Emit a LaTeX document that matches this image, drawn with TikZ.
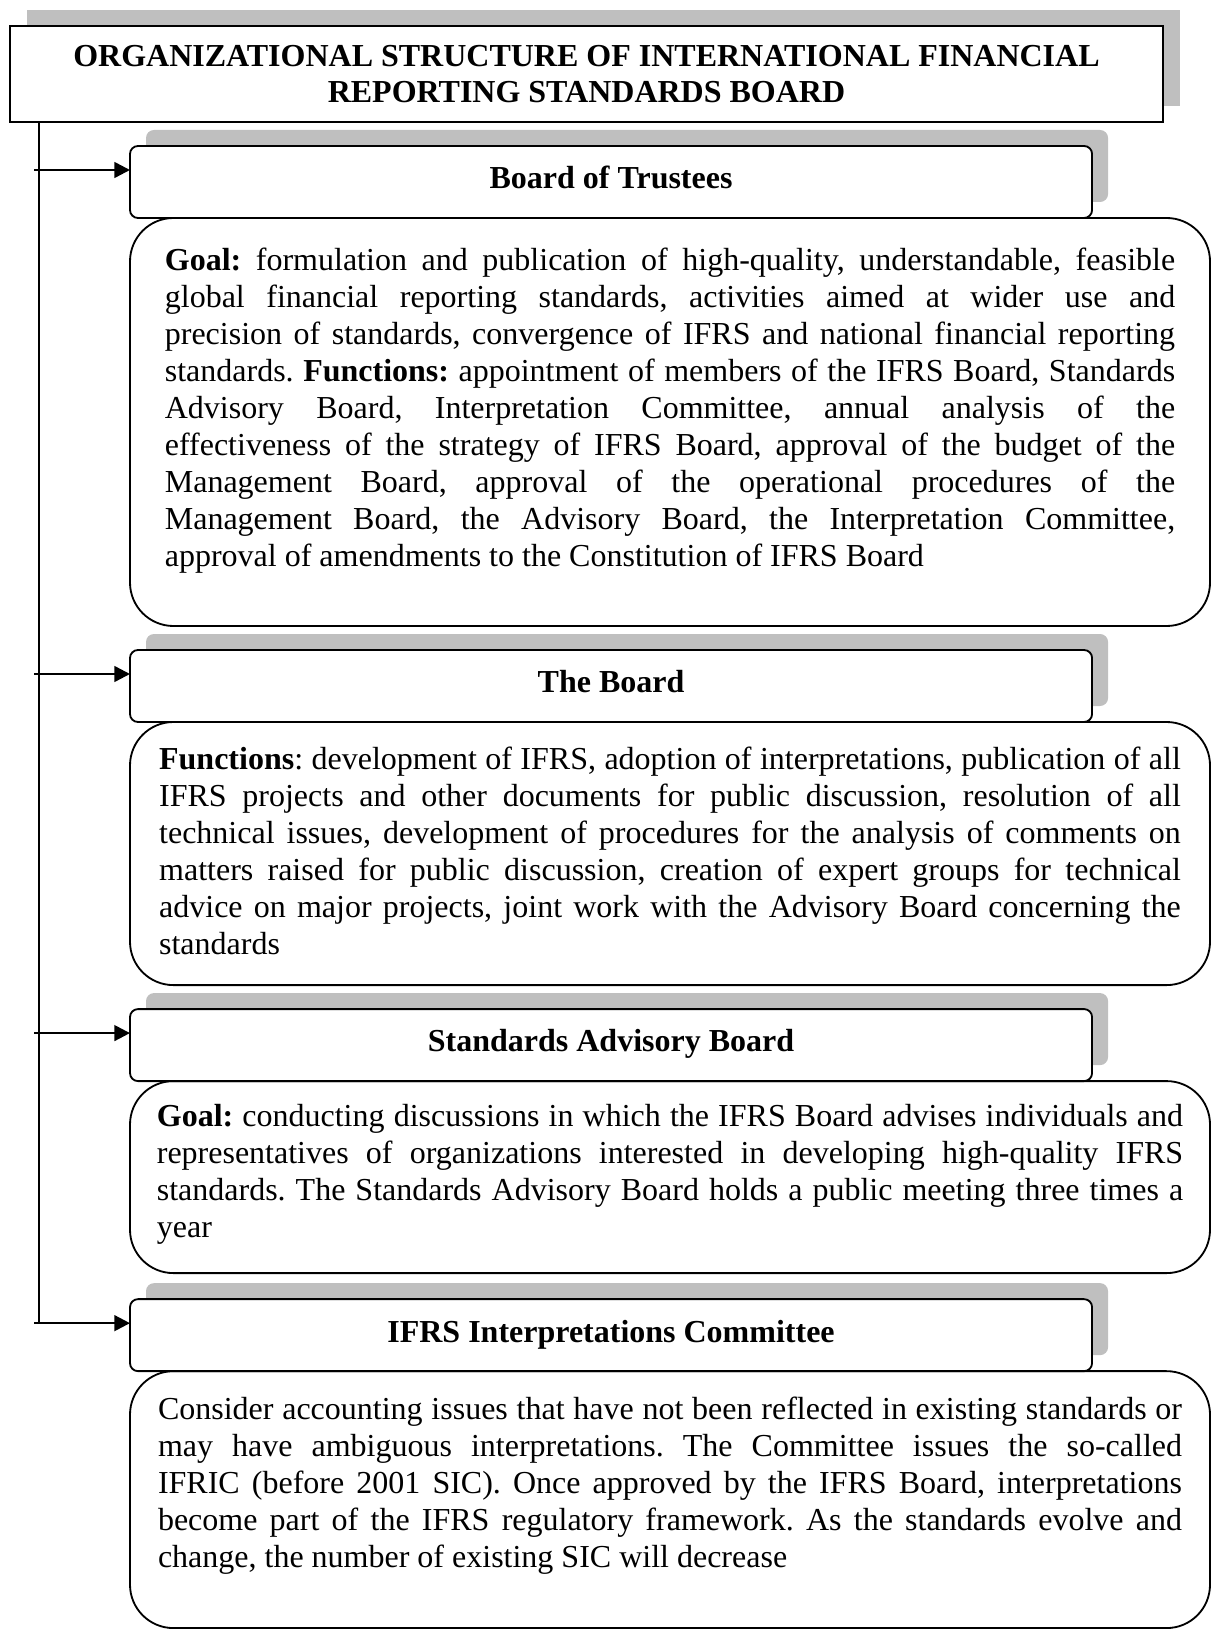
\documentclass[tikz,border=0pt]{standalone}
\usepackage{fontspec}
\setmainfont{Liberation Serif}
\usetikzlibrary{shadows}
\usetikzlibrary{arrows.meta}
\usetikzlibrary{positioning}
\frenchspacing

\begin{document}
\begin{tikzpicture}[x=0.4375pt,y=-0.4375pt]
	\useasboundingbox (0,0) rectangle (1211,1629);

	\tikzstyle{tnode} = [rectangle,draw,thick,fill=white,outer sep=0pt,align=center,minimum width=504.4pt,minimum height=42pt,drop shadow={shadow xshift=7.4pt,shadow yshift=7pt,fill=black!25,opacity=1},font=\fontsize{14}{15.75}\selectfont\bfseries]
	\tikzstyle{hnode} = [rectangle,rounded corners=3.5pt,draw,thick,fill=white,outer sep=0pt,minimum width=420.9pt,minimum height=31.5pt,text height=9.6pt,text depth=3.6pt,drop shadow={shadow xshift=7pt,shadow yshift=7pt,fill=black!25,opacity=1},font=\fontsize{14}{16}\selectfont\bfseries]
	\tikzstyle{bnode} = [rectangle,rounded corners=19pt,draw,thick,outer sep=0pt,minimum width=472.5pt,inner sep=0pt,font=\fontsize{14}{16.2}\selectfont]
	\tikzstyle{hedge} = [-{Triangle[length=6.8pt,width=6.8pt]},line width=1.1pt]

	\node[tnode] (title) at (586.5,74) {ORGANIZATIONAL STRUCTURE OF INTERNATIONAL FINANCIAL\\REPORTING STANDARDS BOARD};

	\node[hnode,anchor=north west] (h1) at (130,146) {Board of Trustees};
	\node[bnode,anchor=north west] (b1) at (h1.south west) {\parbox[t][178.5pt][t]{442pt}{\vspace{13.1pt}\textbf{Goal:} formulation and publication of high-quality, understandable, feasible\linebreak
		global financial reporting standards, activities aimed at wider use and\linebreak
		precision of standards, convergence of IFRS and national financial reporting\linebreak
		standards. \textbf{Functions:} appointment of members of the IFRS Board, Standards\linebreak
		Advisory Board, Interpretation Committee, annual analysis of the\linebreak
		effectiveness of the strategy of IFRS Board, approval of the budget of the\linebreak
		Management Board, approval of the operational procedures of the\linebreak
		Management Board, the Advisory Board, the Interpretation Committee,\linebreak
		approval of amendments to the Constitution of IFRS Board}};

	\node[hnode,below=10.5pt of b1.south west,anchor=north west] (h2) {The Board};
	\node[bnode,anchor=north west] (b2) at (h2.south west) {\parbox[t][115.1pt][t]{447pt}{\vspace{11pt}\textbf{Functions}: development of IFRS, adoption of interpretations, publication of all\linebreak
		IFRS projects and other documents for public discussion, resolution of all\linebreak
		technical issues, development of procedures for the analysis of comments on\linebreak
		matters raised for public discussion, creation of expert groups for technical\linebreak
		advice on major projects, joint work with the Advisory Board concerning the\linebreak
		standards}};

	\node[hnode,below=10.5pt of b2.south west,anchor=north west] (h3) {Standards Advisory Board};
	\node[bnode,anchor=north west] (b3) at (h3.south west) {\parbox[t][84pt][t]{449pt}{\vspace{10.3pt}\textbf{Goal:} conducting discussions in which the IFRS Board advises individuals and\linebreak
		representatives of organizations interested in developing high-quality IFRS\linebreak
		standards. The Standards Advisory Board holds a public meeting three times a\linebreak
		year}};

	\node[hnode,below=11.4pt of b3.south west,anchor=north west] (h4) {IFRS Interpretations Committee};
	\node[bnode,anchor=north west] (b4) at (h4.south west) {\parbox[t][112.4pt][t]{448pt}{\vspace{11.4pt}Consider accounting issues that have not been reflected in existing standards or\linebreak
		may have ambiguous interpretations. The Committee issues the so-called\linebreak
		IFRIC (before 2001 SIC). Once approved by the IFRS Board, interpretations\linebreak
		become part of the IFRS regulatory framework. As the standards evolve and\linebreak
		change, the number of existing SIC will decrease}};

	% arrow ends on the left edge of each header
	\coordinate (st) at (34,0);
	\coordinate (sp) at (39,0);
	\coordinate (a1) at ([yshift=5.25pt]h1.west);
	\coordinate (a2) at ([yshift=5.25pt]h2.west);
	\coordinate (a3) at ([yshift=5.25pt]h3.west);
	\coordinate (a4) at ([yshift=5.25pt]h4.west);

	\draw[line width=0.7pt] (sp |- title.south) -- (sp |- a4);
	\draw (st |- a1) edge [hedge] (a1);
	\draw (st |- a2) edge [hedge] (a2);
	\draw (st |- a3) edge [hedge] (a3);
	\draw (st |- a4) edge [hedge] (a4);

\end{tikzpicture}
\end{document}
